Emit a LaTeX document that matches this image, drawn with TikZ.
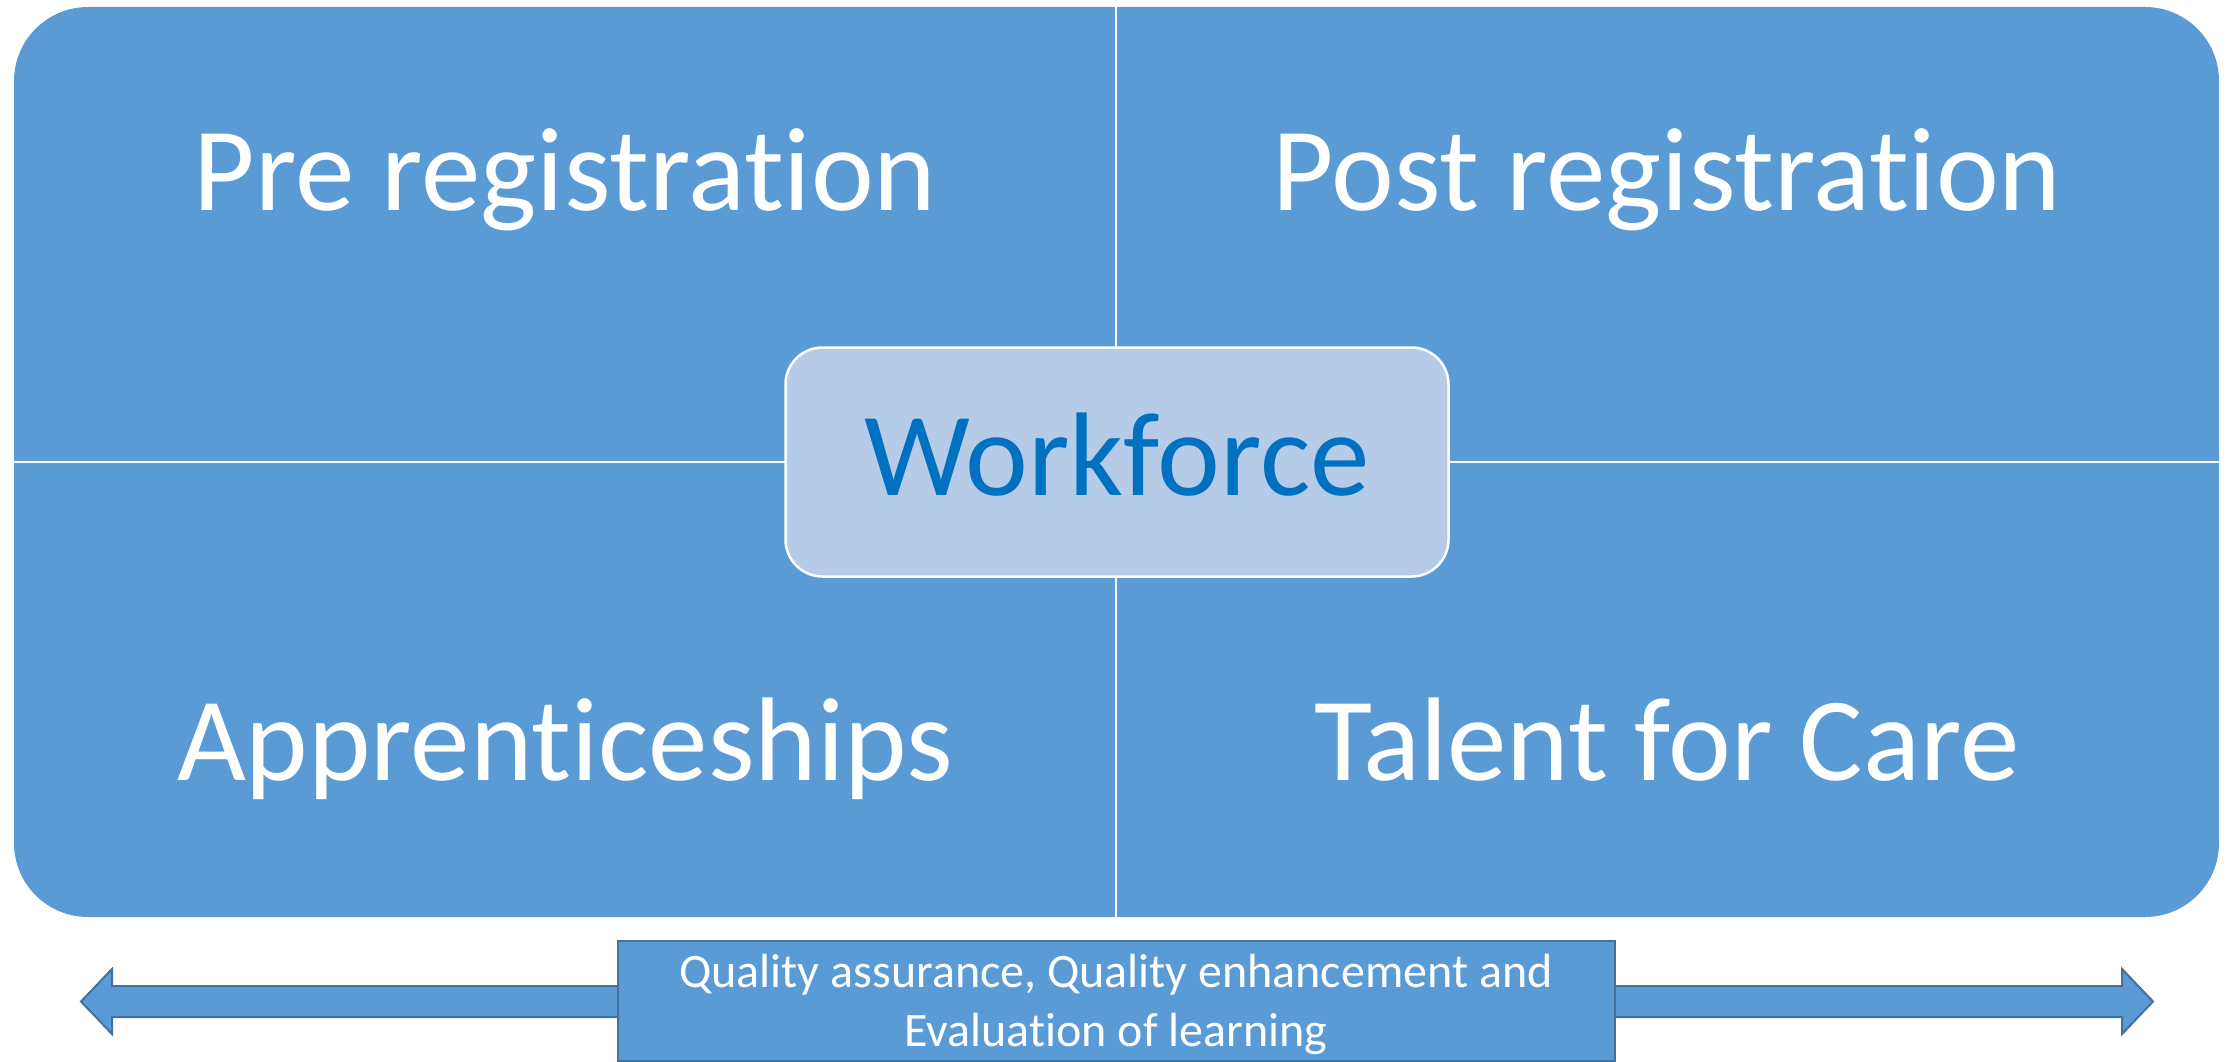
\documentclass[tikz,border=0pt]{standalone}
\usepackage{fontspec}
\setmainfont[Ligatures={NoCommon}]{Carlito}
\definecolor{mainblue}{HTML}{5B9BD5}
\definecolor{lightblue}{HTML}{B6CBE8}
\definecolor{textblue}{HTML}{0070C0}
\definecolor{edgeblue}{HTML}{41719C}
\tikzset{
  bigtext/.style={text=white, font=\fontsize{119}{140}\selectfont, anchor=base, inner sep=0pt},
  smalltext/.style={text=white, font=\fontsize{48}{59}\selectfont, anchor=base, inner sep=0pt},
  divider/.style={draw=white, line width=2.2pt},
  centrebox/.style={rectangle, rounded corners=37pt, fill=lightblue, draw=white, line width=2.5pt,
    minimum width=663pt, minimum height=229pt, inner sep=0pt},
  qualbox/.style={rectangle, fill=mainblue, draw=edgeblue, line width=2pt,
    minimum width=997pt, minimum height=120pt, inner sep=0pt},
  dblarrow/.style={fill=mainblue, draw=edgeblue, line width=2pt, line join=miter}
}
\begin{document}
\begin{tikzpicture}[x=1pt, y=-1pt]
\useasboundingbox (0,0) rectangle (2233,1062);
% outer matrix
\fill[mainblue, rounded corners=74pt] (14,7) rectangle (2219,917);
\coordinate (vt) at (1116,7);
\coordinate (vb) at (1116,917);
\coordinate (hl) at (14,462);
\coordinate (hr) at (2219,462);
\draw[divider] (vt) -- (vb);
\draw[divider] (hl) -- (hr);
% quadrant labels
\node[bigtext] (pre) at (565,210) {Pre registration};
\node[bigtext] (post) at (1667,210) {Post registration};
\node[bigtext] (app) at (565,780) {Apprenticeships};
\node[bigtext] (tal) at (1667,780) {Talent for Care};
% centre
\node[centrebox] (wbox) at (1117,462) {};
\node[bigtext, text=textblue] (work) at (1117,495) {Workforce};
% bottom double arrow
\draw[dblarrow] (81,1001.5) -- (112,969) -- (112,986) -- (2122,986) -- (2122,969)
  -- (2153,1001.5) -- (2122,1034) -- (2122,1017) -- (112,1017) -- (112,1034) -- cycle;
\node[qualbox] (qbox) at (1116.5,1000.5) {};
\node[smalltext] (q1) at (1116,987) {Quality assurance, Quality enhancement and};
\node[smalltext] (q2) at (1116,1046) {Evaluation of learning};
\end{tikzpicture}
\end{document}
